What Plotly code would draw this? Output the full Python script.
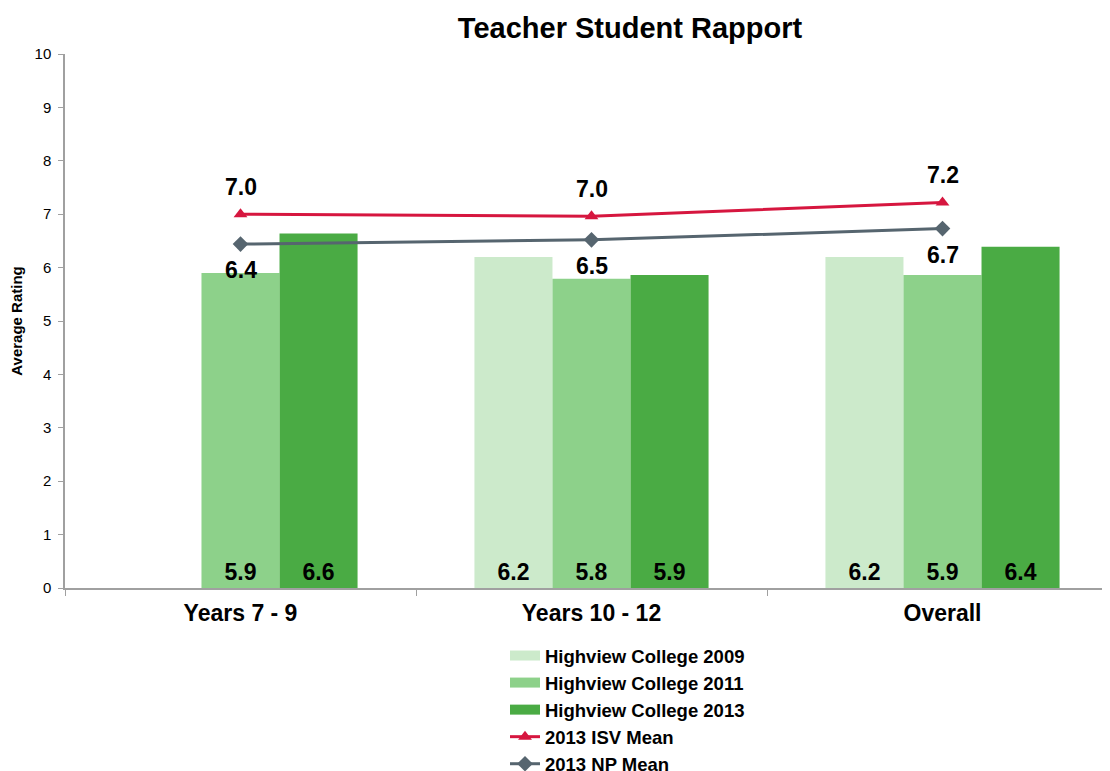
import plotly.graph_objects as go

categories = ["Years 7 - 9", "Years 10 - 12", "Overall"]
hc2009 = [None, 6.20, 6.20]
hc2011 = [5.90, 5.79, 5.86]
hc2013 = [6.64, 5.86, 6.39]
isv_mean = [7.00, 6.96, 7.22]
np_mean = [6.44, 6.52, 6.73]

def lbl(vals):
    return ["" if v is None else f"{v:.1f}" for v in vals]

LBL = 23
fig = go.Figure()
bar_font = dict(family="Arial", size=LBL, color="black")
bar_series = [("Highview College 2009", hc2009, "#CCEACB"),
              ("Highview College 2011", hc2011, "#8DD18A"),
              ("Highview College 2013", hc2013, "#4AAB44")]
for name, vals, col in bar_series:
    fig.add_trace(go.Bar(x=categories, y=vals, name=name, marker_color=col,
                         marker_line_width=0, text=lbl(vals), textposition="inside",
                         insidetextanchor="start", textfont=bar_font, textangle=0,
                         texttemplate="<b>%{text}</b>", showlegend=False))
# legend-only entries with wide rectangle swatches
for name, vals, col in bar_series:
    fig.add_trace(go.Scatter(x=[None], y=[None], mode="lines", name="<b>" + name + "</b>",
                             line=dict(color=col, width=12), hoverinfo="skip"))

fig.add_trace(go.Scatter(x=categories, y=isv_mean, name="<b>2013 ISV Mean</b>",
                         mode="lines+markers", line=dict(color="#D6163F", width=3),
                         marker=dict(symbol="triangle-up", size=12, color="#D6163F")))
fig.add_trace(go.Scatter(x=categories, y=np_mean, name="<b>2013 NP Mean</b>",
                         mode="lines+markers", line=dict(color="#56656F", width=3),
                         marker=dict(symbol="diamond", size=12, color="#56656F")))

for c, v in zip(categories, isv_mean):
    fig.add_annotation(x=c, y=v, text="<b>%.1f</b>" % v, showarrow=False, yshift=27,
                       font=dict(family="Arial", size=LBL, color="black"))
for c, v in zip(categories, np_mean):
    fig.add_annotation(x=c, y=v, text="<b>%.1f</b>" % v, showarrow=False, yshift=-26,
                       font=dict(family="Arial", size=LBL, color="black"))

fig.update_layout(
    width=1110, height=771,
    margin=dict(l=57, r=0, t=46, b=191, autoexpand=False),
    paper_bgcolor="white", plot_bgcolor="white",
    font=dict(family="Arial", color="black"),
    barmode="group", bargap=0.333, bargroupgap=0,
    title=dict(text="<b>Teacher Student Rapport</b>", x=622/1110, xanchor="center",
               y=1-20/771, yanchor="middle", font=dict(size=29, family="Arial", color="black")),
    showlegend=True,
    legend=dict(x=(497-57)/1053, y=(580-629)/534,
                xanchor="left", yanchor="top", font=dict(family="Arial", size=18.5, color="black"),
                traceorder="normal", tracegroupgap=0, itemwidth=30,
                bgcolor="rgba(0,0,0,0)"),
    uniformtext=dict(minsize=10, mode="show"),
)
fig.update_xaxes(type="category", range=[-0.5, 2.5], showline=True, linecolor="#A0A0A0",
                 linewidth=1.5, ticks="outside", tickson="boundaries", ticklen=6,
                 tickcolor="#A0A0A0", showgrid=False, tickangle=0, automargin=False,
                 ticklabelstandoff=4,
                 tickfont=dict(family="Arial", size=23, color="black"),
                 tickprefix="<b>", ticksuffix="</b>")
fig.update_yaxes(range=[0, 10], dtick=1, showline=True, linecolor="#A0A0A0", linewidth=1.5,
                 ticks="outside", ticklen=5, tickcolor="#A0A0A0", showgrid=False,
                 zeroline=False, automargin=False, ticklabelstandoff=4,
                 tickfont=dict(family="Arial", size=15, color="black"),
                 title=dict(text="<b>Average Rating</b>", font=dict(size=15, family="Arial"),
                            standoff=14))

fig.write_html("out.html")
